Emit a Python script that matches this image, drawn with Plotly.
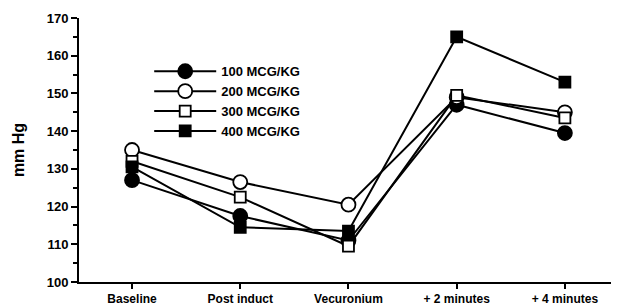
import plotly.graph_objects as go

categories = ["Baseline", "Post induct", "Vecuronium", "+ 2 minutes", "+ 4 minutes"]
series_names = ["100 MCG/KG", "200 MCG/KG", "300 MCG/KG", "400 MCG/KG"]
v100 = [127, 117.5, 111, 147, 139.5]
v200 = [135, 126.5, 120.5, 149, 145]
v300 = [132, 122.5, 109.5, 149.5, 143.5]
v400 = [130.5, 114.5, 113.5, 165, 153]
y_ticks = [100, 110, 120, 130, 140, 150, 160, 170]

values = [v100, v200, v300, v400]
symbols = ["circle", "circle", "square", "square"]
fills = ["black", "white", "white", "black"]
sizes = [14, 14, 11, 11]

fig = go.Figure()
xs = list(range(len(categories)))
for name, vals, sym, fc, sz in zip(series_names, values, symbols, fills, sizes):
    fig.add_trace(go.Scatter(
        x=xs, y=vals, name=name, mode="lines+markers",
        line=dict(color="black", width=2),
        marker=dict(symbol=sym, size=sz, color=fc, line=dict(color="black", width=1.8)),
    ))

# page body has an 8px default margin; the figure is sized to compensate
fig.update_layout(
    width=611, height=299,
    margin=dict(l=71, r=0, t=10, b=25),
    plot_bgcolor="white", paper_bgcolor="white",
    font=dict(family="Liberation Sans, Arial, sans-serif", color="black", size=12),
    showlegend=True,
    legend=dict(x=0.13, y=0.855, xanchor="left", yanchor="top",
                font=dict(size=13, weight="bold"), bgcolor="rgba(0,0,0,0)",
                tracegroupgap=0, itemwidth=62),
    xaxis=dict(range=[-0.49, 4.5], tickmode="array", tickvals=xs, ticktext=categories,
               showline=True, linecolor="black", linewidth=2, ticks="outside",
               ticklen=5, tickwidth=2, tickcolor="black", showgrid=False, zeroline=False,
               tickfont=dict(size=12, weight="bold"), automargin=False),
    yaxis=dict(range=[100, 170], tickvals=y_ticks, showline=True, linecolor="black",
               linewidth=2, ticks="outside", ticklen=6, tickwidth=2, tickcolor="black",
               showgrid=False, zeroline=False, tickfont=dict(size=13, weight="bold"),
               minor=dict(dtick=5, ticks="outside", ticklen=4, tickwidth=1.5, tickcolor="black"),
               title=dict(text="mm Hg", font=dict(size=16, weight="bold"), standoff=18),
               automargin=False),
)

fig.write_html("out.html")
